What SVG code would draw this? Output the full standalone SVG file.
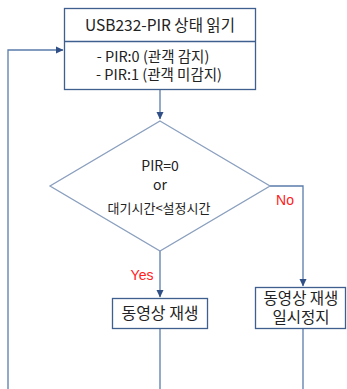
<svg xmlns="http://www.w3.org/2000/svg" width="347" height="389" viewBox="0 0 347 389">
<defs>
<style>
.box{fill:#fff;stroke:#3f5f8f;stroke-width:1.3}
.dia{fill:#fff;stroke:#8a9fbe;stroke-width:1.3}
.ln{fill:none;stroke:#5a7cab;stroke-width:1.3}
.t{font-family:"Noto Sans CJK KR","Noto Sans",sans-serif;fill:#222;text-anchor:middle}
.r{font-family:"Liberation Sans",Arial,sans-serif;fill:#ff2020;font-size:14px;text-anchor:middle}
</style>
<marker id="ah" markerWidth="8" markerHeight="8" refX="7" refY="4" orient="auto" markerUnits="userSpaceOnUse">
<path d="M0,0.5 L7.5,4 L0,7.5 Z" fill="#2f4f86"/>
</marker>
</defs>
<rect width="347" height="389" fill="#fff"/>
<g id="connectors">
<path class="ln" d="M8,389 V50 H63" marker-end="url(#ah)"/>
<path class="ln" d="M160,89 V119" marker-end="url(#ah)"/>
<path class="ln" d="M270,186 H303 V286" marker-end="url(#ah)"/>
<path class="ln" d="M160,251 V297" marker-end="url(#ah)"/>
<path class="ln" d="M160,328 V389"/>
<path class="ln" d="M303,328 V389"/>
</g>
<g id="read">
<rect class="box" x="64.5" y="8.5" width="191" height="81"/>
<line class="box" x1="64.5" y1="41.5" x2="255.5" y2="41.5"/>
<text class="t" x="160" y="31" font-size="15.5">USB232-PIR 상태 읽기</text>
<text class="t" x="153" y="62" font-size="14.5">- PIR:0 (관객 감지)</text>
<text class="t" x="159" y="80" font-size="14.5">- PIR:1 (관객 미감지)</text>
</g>
<g id="decision">
<polygon class="dia" points="160,121 270,186 160,251 50,186"/>
<text class="t" x="160" y="171" font-size="14">PIR=0</text>
<text class="t" x="160" y="190" font-size="14">or</text>
<text class="t" x="159" y="213" font-size="13">대기시간&lt;설정시간</text>
</g>
<text class="r" x="285" y="205">No</text>
<text class="r" x="142" y="280">Yes</text>
<g id="play">
<rect class="box" x="112.5" y="298.5" width="95" height="30"/>
<text class="t" x="160" y="319" font-size="16">동영상 재생</text>
</g>
<g id="pause">
<rect class="box" x="255.5" y="287.5" width="90" height="41"/>
<text class="t" x="301" y="304" font-size="15.5">동영상 재생</text>
<text class="t" x="301" y="323" font-size="15.5">일시정지</text>
</g>
</svg>
